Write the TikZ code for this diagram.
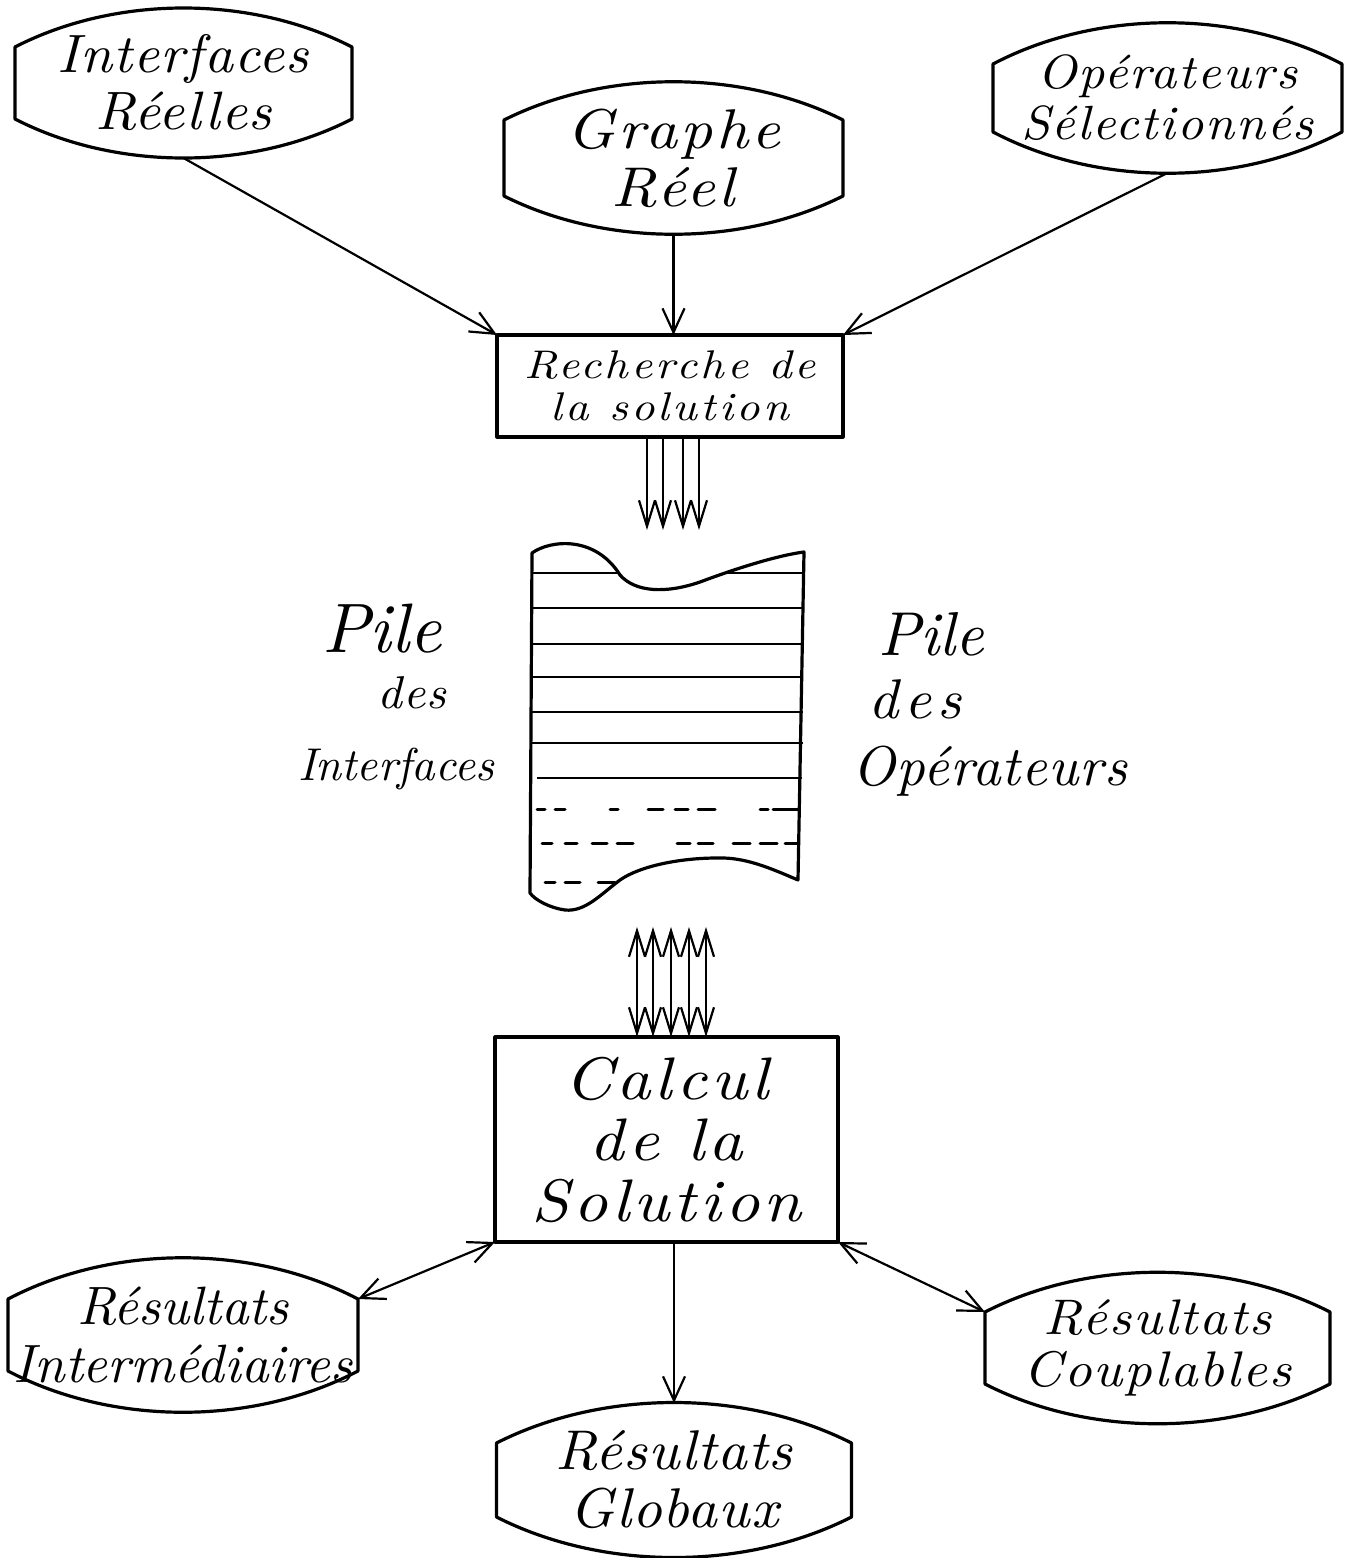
\documentclass[tikz,border=0pt]{standalone}
\usepackage{fontspec}
\newfontfamily\hwfont{lmroman10-italic.otf}
\usetikzlibrary{arrows.meta,calc}
\tikzset{
  shp/.style={line width=3.2pt, line join=round},
  stk/.style={line width=2.8pt},
  dsh/.style={line width=3pt, line cap=round},
  barb/.tip={Straight Barb[length=24pt,width=22pt]},
  sbarb/.tip={Straight Barb[length=26pt,width=16pt]},
  conn/.style={line width=2.2pt, -barb},
  dconn/.style={line width=2.2pt, barb-barb},
  vconn/.style={line width=2.2pt, -sbarb},
  vdconn/.style={line width=2.2pt, sbarb-sbarb},
  bnode/.style={draw=none, inner sep=0pt, outer sep=0pt, align=center},
  boxnode/.style={shp, draw, inner sep=0pt, outer sep=0pt, align=center},
  lbl/.style={inner sep=0pt, anchor=base},
}
% size, baselineskip, letter spacing, horizontal stretch
\newcommand\hw[4]{\fontsize{#1}{#2}\selectfont\hwfont\addfontfeature{LetterSpace=#3,FakeStretch=#4}}
% barrel outline round a node: #1 name, #2 half height of the flat ends, #3 control lift
\newcommand\drawbarrel[3]{%
  \draw[shp] ($(#1.west)+(0,-#2)$)
    .. controls ($(#1.north west)!0.3!(#1.north east)+(0,-#3)$) and ($(#1.north west)!0.7!(#1.north east)+(0,-#3)$) ..
    ($(#1.east)+(0,-#2)$) -- ($(#1.east)+(0,#2)$)
    .. controls ($(#1.south west)!0.7!(#1.south east)+(0,#3)$) and ($(#1.south west)!0.3!(#1.south east)+(0,#3)$) ..
    ($(#1.west)+(0,#2)$) -- cycle;
  \coordinate (#1-nw) at ($(#1.west)+(0,-#2)$);
  \coordinate (#1-ne) at ($(#1.east)+(0,-#2)$);
}
\begin{document}
\begin{tikzpicture}[x=1pt,y=-1pt]
\useasboundingbox (0,0) rectangle (1354,1558);
\fill[white] (0,0) rectangle (1354,1558);

% ---- top barrels
\node[bnode, minimum width=337pt, minimum height=150pt, font=\hw{54}{57}{2}{1.05}] (ir) at (183.5,83) {Interfaces\\Réelles};
\drawbarrel{ir}{36}{13}
\node[bnode, minimum width=339pt, minimum height=152pt, font=\hw{56}{58}{6}{1.12}] (gr) at (673.5,158) {Graphe\\Réel};
\drawbarrel{gr}{38}{13}
\node[bnode, minimum width=349pt, minimum height=150pt, font=\hw{48}{51}{4}{1.07}] (os) at (1167.5,98) {Opérateurs\\Sélectionnés};
\drawbarrel{os}{34}{14}

% ---- Recherche box
\node[boxnode, minimum width=346pt, minimum height=102pt, font=\hw{40}{42}{8}{1.15}] (rech) at (670,386) {Recherche de\\la solution};

\draw[conn] (ir.south) -- (rech.north west);
\draw[conn] (gr.south) -- (gr.south |- rech.north);
\draw[conn] (os.south) -- (rech.north east);

\coordinate (stacktop) at (670,530);
\foreach \dx in {-23,-7,13,29}
  \draw[vconn] ([xshift=\dx pt]rech.south) -- ([xshift=\dx pt]rech.south |- stacktop);

% ---- stack
\draw[shp] (532,553) .. controls (550,540) and (595,535) .. (620,575)
  .. controls (635,592) and (665,594) .. (700,582)
  .. controls (740,567) and (780,555) .. (804,552)
  -- (798,880)
  .. controls (770,868) and (745,857) .. (717,858)
  .. controls (680,858) and (640,866) .. (620,880)
  .. controls (600,895) and (585,912) .. (565,910)
  .. controls (550,908) and (535,900) .. (530,893) -- cycle;
\draw[stk] (532,573) -- (618,573);
\draw[stk] (727,573) -- (804,573);
\foreach \yy in {608,644,677,712,743}
  \draw[stk] (532,\yy) -- (803,\yy);
\draw[stk] (537,778) -- (802,778);
\foreach \a/\b in {537/545,555/565,610/618,648/663,675/688,698/715,760/768,773/798}
  \draw[dsh] (\a,809) -- (\b,809);
\foreach \a/\b in {542/552,565/577,592/607,617/633,677/690,698/713,733/750,760/777,785/797}
  \draw[dsh] (\a,843) -- (\b,843);
\foreach \a/\b in {545/555,565/580,598/615}
  \draw[dsh] (\a,882) -- (\b,882);

% ---- stack labels
\node[lbl, font=\hw{70}{70}{0}{1.0}] (pl1) at (382,652) {Pile};
\node[lbl, font=\hw{46}{46}{2}{1.05}] (pl2) at (412,708) {des};
\node[lbl, font=\hw{46}{46}{0}{1.0}] (pl3) at (396,780) {Interfaces};
\node[lbl, font=\hw{62}{62}{0}{1.0}] (pr1) at (931,655) {Pile};
\node[lbl, font=\hw{56}{56}{10}{1.05}] (pr2) at (915,718) {des};
\node[lbl, font=\hw{56}{56}{2}{1.0}] (pr3) at (990,785) {Opérateurs};

% ---- Calcul box
\node[boxnode, minimum width=343pt, minimum height=205pt, font=\hw{60}{61}{7}{1.12}] (calc) at (666.5,1139.5) {Calcul\\de la\\Solution};

\coordinate (stackbot) at (670,927);
\foreach \dx in {-29.5,-13.5,4.5,22.5,39.5}
  \draw[vdconn] ([xshift=\dx pt]calc.north |- stackbot) -- ([xshift=\dx pt]calc.north);

% ---- bottom barrels
\node[bnode, minimum width=350pt, minimum height=154pt, font=\hw{54}{58}{0}{1.0}] (ri) at (183,1335) {Résultats\\Intermédiaires};
\drawbarrel{ri}{36}{14}
\node[bnode, minimum width=355pt, minimum height=154pt, font=\hw{56}{58}{2}{1.04}] (rg) at (674,1480) {Résultats\\Globaux};
\drawbarrel{rg}{37}{14}
\node[bnode, minimum width=345pt, minimum height=152pt, font=\hw{50}{52}{4}{1.08}] (rc) at (1157.5,1348) {Résultats\\Couplables};
\drawbarrel{rc}{36}{13}

\draw[dconn] (calc.south west) -- (ri-ne);
\draw[conn] (calc.south -| rg.north) -- (rg.north);
\draw[dconn] (calc.south east) -- (rc-nw);
\end{tikzpicture}
\end{document}
